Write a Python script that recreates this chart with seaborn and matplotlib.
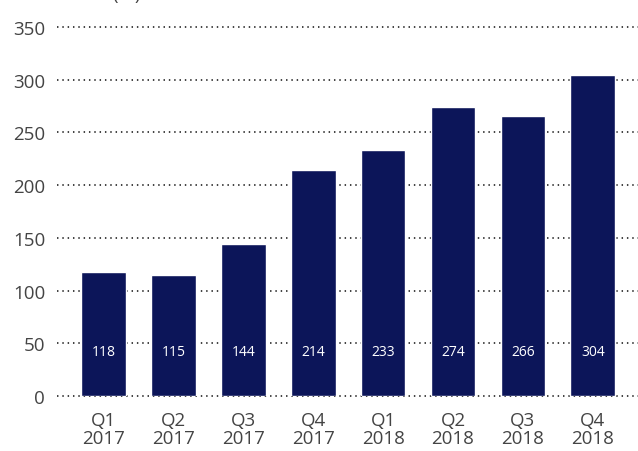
import matplotlib
matplotlib.use("Agg")
import matplotlib.pyplot as plt
import seaborn as sns
import pandas as pd

quarters = ["Q1\n2017", "Q2\n2017", "Q3\n2017", "Q4\n2017",
            "Q1\n2018", "Q2\n2018", "Q3\n2018", "Q4\n2018"]
values = [118, 115, 144, 214, 233, 274, 266, 304]
yticks = [0, 50, 100, 150, 200, 250, 300, 350]

sns.set_style("white")
plt.rcParams['font.family'] = ['Open Sans', 'DejaVu Sans']

df = pd.DataFrame({"quarter": quarters, "value": values})

fig = plt.figure(figsize=(6.38, 4.52), dpi=100)
ax = fig.add_axes([57/638, 1 - 397/452, 1 - 57/638, (397 - 28)/452])

bar_color = "#0c1559"
sns.barplot(data=df, x="quarter", y="value", color=bar_color, width=0.64,
            saturation=1, ax=ax, zorder=3)

ax.set_xlim(-0.665, 7.647)
ax.set_ylim(0, 350)
ax.set_yticks(yticks)
ax.set_xlabel("")
ax.set_ylabel("")

for y in yticks:
    ax.axhline(y, color="#333333", linestyle=(0, (0.8, 2.15)), linewidth=1.3,
               zorder=1, clip_on=False)

for i, v in enumerate(values):
    ax.text(i, 42, str(v), color="white", ha="center", va="center",
            fontsize=10, zorder=4)

for s in ax.spines.values():
    s.set_visible(False)

ax.tick_params(axis="y", length=0, pad=8.5, labelsize=13.5, labelcolor="#444444")
ax.tick_params(axis="x", length=0, pad=11, labelsize=13.5, labelcolor="#444444")
for lbl in ax.get_xticklabels():
    lbl.set_linespacing(0.95)

fig.text(0.199, 1.0, "(m)", fontsize=13.5, color="#444444", ha="center", va="baseline")

fig.savefig("out.png", dpi=100)
